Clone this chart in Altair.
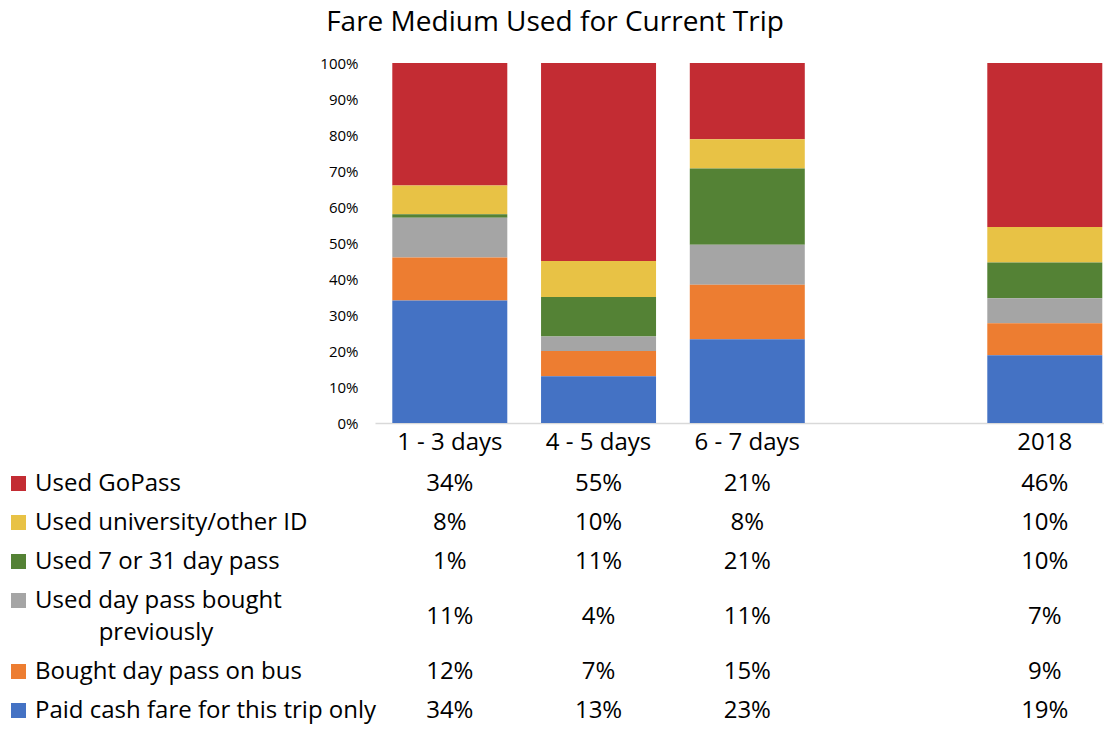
import altair as alt
import pandas as pd

# ---------------- data ----------------
title_text = "Fare Medium Used for Current Trip"
categories = ["1 - 3 days", "4 - 5 days", "6 - 7 days", "2018"]
series = [
    "Used GoPass",
    "Used university/other ID",
    "Used 7 or 31 day pass",
    "Used day pass bought\npreviously",
    "Bought day pass on bus",
    "Paid cash fare for this trip only",
]
gopass = [34, 55, 21, 46]
univ_id = [8, 10, 8, 10]
pass_7_31 = [1, 11, 21, 10]
day_pass_prev = [11, 4, 11, 7]
day_pass_bus = [12, 7, 15, 9]
cash_fare = [34, 13, 23, 19]
series_values = [gopass, univ_id, pass_7_31, day_pass_prev, day_pass_bus, cash_fare]
colors = ["#C32C33", "#E8C245", "#548235", "#A5A5A5", "#ED7D31", "#4472C4"]
tick_values = [0, 0.1, 0.2, 0.3, 0.4, 0.5, 0.6, 0.7, 0.8, 0.9, 1.0]

# ---------------- layout ----------------
FONT = "Open Sans"
PAD_LEFT, PAD_TOP = 367, 55
W, H = 729, 360
PAD_BOTTOM = 301
GAP = " "  # empty slot between 6-7 days and 2018
x_domain = categories[:3] + [GAP] + categories[3:]

TABLE_TOP = 401      # relative to plot top
ROW_H, LINE_H = 39, 32
SQ_X, LABEL_X, WRAP_CX = -356.5, -340, -219
VALUE_FS, LABEL_FS, TICK_FS, TITLE_FS = 24, 24, 15, 28

names = [s.replace("\n", " ") for s in series]

# row geometry computed from the number of text lines per label
row_center, row_first = [], []
top = TABLE_TOP
for s in series:
    n = len(s.split("\n"))
    h = ROW_H + LINE_H * (n - 1)
    c = top + h / 2
    row_center.append(c)
    row_first.append(c - LINE_H * (n - 1) / 2)
    top += h

rows = []
for si, vals in enumerate(series_values):
    for ci, cat in enumerate(categories):
        rows.append(dict(cat=cat, series=names[si], value=vals[ci],
                         order=len(series) - 1 - si, row_y=row_center[si],
                         label=f"{vals[ci]}%"))
df = pd.DataFrame(rows)

leg = pd.DataFrame(dict(series=names, sq_y=row_first))
lab_rows = []
for si, s in enumerate(series):
    for li, line in enumerate(s.split("\n")):
        lab_rows.append(dict(text=line, y=row_first[si] + LINE_H * li, first=li == 0))
lab = pd.DataFrame(lab_rows)

xscale = alt.Scale(domain=x_domain, paddingInner=0.2269, paddingOuter=0.0639,
                   align=0.91, round=False)
xaxis = alt.Axis(labels=False, ticks=False, tickSize=0, domain=True,
                 domainColor="#D9D9D9", domainWidth=1.5, grid=False, title=None)
yaxis = alt.Axis(values=tick_values, format=".0%", ticks=False, tickSize=0,
                 domain=False, grid=False, labelPadding=17, labelFontSize=TICK_FS,
                 labelColor="#000000", labelFont=FONT, title=None)
cscale = alt.Scale(domain=names, range=colors)

bars = alt.Chart(df).mark_bar().encode(
    x=alt.X("cat:N", scale=xscale, axis=xaxis),
    y=alt.Y("value:Q", stack="normalize", scale=alt.Scale(domain=[0, 1]), axis=yaxis),
    color=alt.Color("series:N", scale=cscale, legend=None),
    order=alt.Order("order:Q", sort="ascending"),
)

values_text = alt.Chart(df).mark_text(font=FONT, fontSize=VALUE_FS, baseline="middle",
                                      color="#000000").encode(
    x=alt.X("cat:N", scale=xscale, axis=xaxis),
    y=alt.Y("row_y:Q", scale=None, axis=None),
    text="label:N",
)

cat_labels = alt.Chart(pd.DataFrame(dict(cat=categories))).mark_text(
    font=FONT, fontSize=LABEL_FS, baseline="alphabetic", color="#000000").encode(
    x=alt.X("cat:N", scale=xscale, axis=xaxis),
    y=alt.value(387),
    text="cat:N",
)

squares = alt.Chart(leg).mark_square(size=225, opacity=1).encode(
    x=alt.value(SQ_X),
    y=alt.Y("sq_y:Q", scale=None, axis=None),
    color=alt.Color("series:N", scale=cscale, legend=None),
)

first_lines = alt.Chart(lab).transform_filter("datum.first").mark_text(
    font=FONT, fontSize=LABEL_FS, baseline="middle", align="left", color="#000000").encode(
    x=alt.value(LABEL_X),
    y=alt.Y("y:Q", scale=None, axis=None),
    text="text:N",
)
wrap_lines = alt.Chart(lab).transform_filter("!datum.first").mark_text(
    font=FONT, fontSize=LABEL_FS, baseline="middle", align="center", color="#000000").encode(
    x=alt.value(WRAP_CX),
    y=alt.Y("y:Q", scale=None, axis=None),
    text="text:N",
)

title = alt.Chart(pd.DataFrame(dict(t=[title_text]))).mark_text(
    font=FONT, fontSize=TITLE_FS, baseline="alphabetic", align="center", color="#000000").encode(
    x=alt.value(180), y=alt.value(-32), text="t:N")

chart = alt.layer(bars, values_text, cat_labels, squares, first_lines, wrap_lines, title
).resolve_scale(y="independent").properties(
    width=W, height=H,
    autosize=alt.AutoSizeParams(type="none"),
    padding={"left": PAD_LEFT, "top": PAD_TOP, "right": 0, "bottom": PAD_BOTTOM},
    background="#FFFFFF",
).configure_view(stroke=None)

chart.save("out.html", embed_options={"renderer": "svg", "actions": False})
